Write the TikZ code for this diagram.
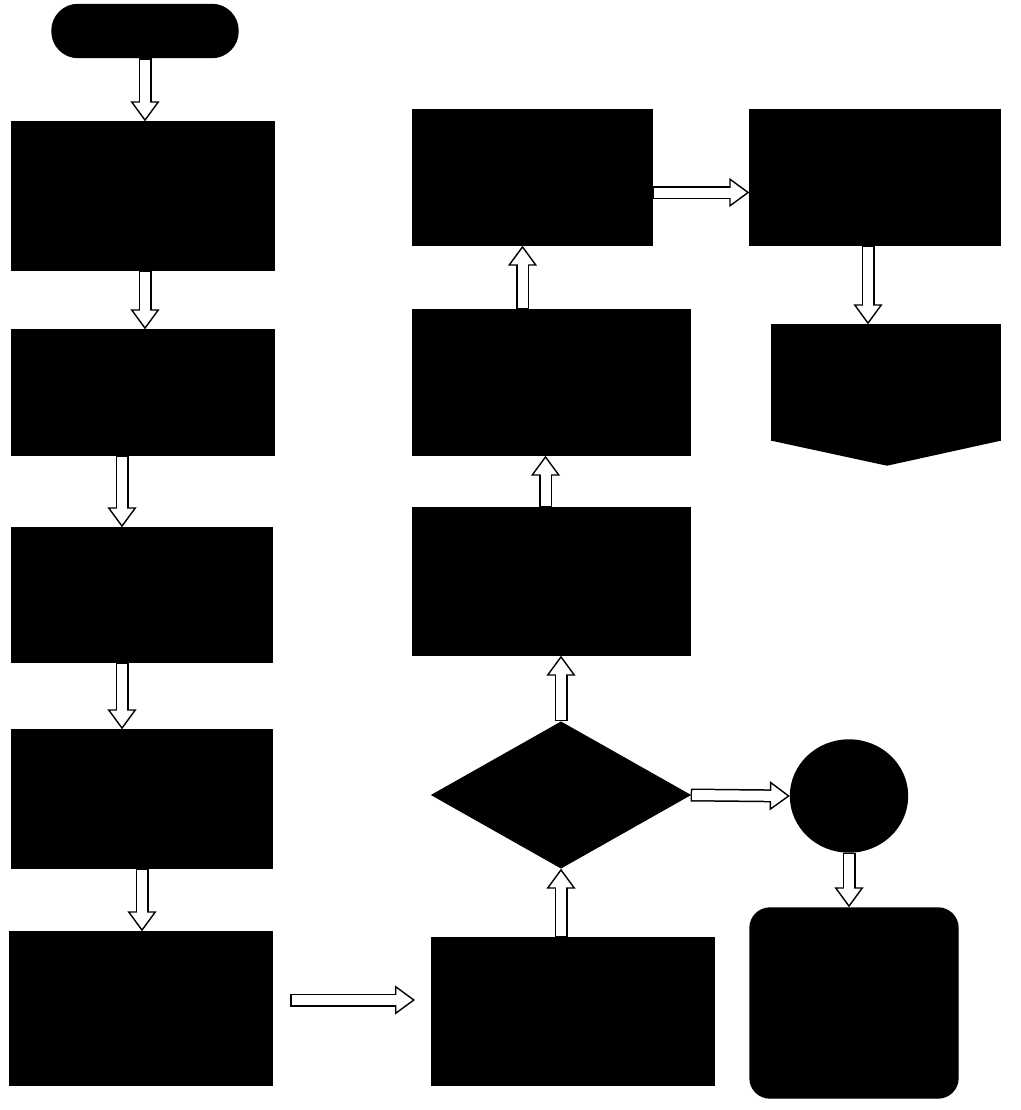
\documentclass[tikz,border=0pt]{standalone}
\usepackage{tikz}
\usetikzlibrary{arrows.meta,positioning,calc,shapes.geometric}

\begin{document}
\begin{tikzpicture}[
  x=0.2mm, y=-0.2mm,
  block/.style={draw=black, fill=black, inner sep=0pt, line width=0.8pt},
  flow/.style={line width=2.6mm, draw=black,
    -{Triangle[length=4mm, width=5.8mm, fill=white, line width=0.8pt]},
    postaction={draw=white, line width=2.0mm, -, shorten <=0.3mm, shorten >=3.3mm}}
]
\useasboundingbox (0,0) rectangle (1020,1110);
% left column
\node[block, rounded corners=5.2mm, minimum width=37.2mm, minimum height=10.6mm] (start) at (145,31) {};
\node[block, minimum width=52.4mm, minimum height=29.6mm] (b1) at (143,196) {};
\node[block, minimum width=52.4mm, minimum height=25mm] (b2) at (143,392.5) {};
\node[block, minimum width=52mm, minimum height=26.8mm] (b3) at (142,595) {};
\node[block, minimum width=52mm, minimum height=27.6mm] (b4) at (142,799) {};
\node[block, minimum width=52.4mm, minimum height=30.6mm] (b5) at (141,1008.5) {};
% middle column
\node[block, minimum width=56.4mm, minimum height=29.4mm] (m1) at (573,1011.5) {};
\node[block, diamond, minimum width=51.6mm, minimum height=29.2mm, shape aspect=1.77] (dia) at (561,795) {};
\node[block, minimum width=55.4mm, minimum height=29.4mm] (m2) at (551.5,581.5) {};
\node[block, minimum width=55.4mm, minimum height=29mm] (m3) at (551.5,382.5) {};
\node[block, minimum width=47.8mm, minimum height=27mm] (m4) at (532.5,177.5) {};
% right column
\node[block, minimum width=50mm, minimum height=27mm] (r1) at (875,177.5) {};
\node[block, minimum width=45.6mm, minimum height=23mm] (r2) at (886,382.5) {};
\fill[black] (r2.south west) -- (r2.south east) -- ($(r2.south)+(1,25)$) -- cycle;
\node[block, ellipse, minimum width=23.4mm, minimum height=22.4mm] (circ) at (849,796) {};
\node[block, rounded corners=4mm, minimum width=41.6mm, minimum height=38mm] (r3) at (854,1003) {};

% arrow ends
\coordinate (gapL) at (290,1000);
\coordinate (gapR) at (415,1000);
\coordinate (b1out) at ($(b1.south)+(2,0)$);
\coordinate (b2out) at ($(b2.south)+(-21,0)$);
\coordinate (b3out) at ($(b3.south)+(-20,0)$);
\coordinate (m2out) at ($(m2.north)+(-6,0)$);
\coordinate (m3out) at ($(m3.north)+(-29,0)$);
\coordinate (m4out) at ($(m4.east)+(0,15)$);
\coordinate (r1out) at ($(r1.south)+(-7,0)$);

% arrows
\draw[flow] (start.south) -- (start.south |- b1.north);
\draw[flow] (b1out) -- (b1out |- b2.north);
\draw[flow] (b2out) -- (b2out |- b3.north);
\draw[flow] (b3out) -- (b3out |- b4.north);
\draw[flow] (b4.south) -- (b4.south |- b5.north);
\draw[flow] (gapL) -- (gapR);
\draw[flow] (dia.south |- m1.north) -- (dia.south);
\draw[flow] (dia.north) -- (dia.north |- m2.south);
\draw[flow] (m2out) -- (m2out |- m3.south);
\draw[flow] (m3out) -- (m3out |- m4.south);
\draw[flow] (m4out) -- (m4out -| r1.west);
\draw[flow] (r1out) -- (r1out |- r2.north);
\draw[flow] (dia.east) -- (circ.west);
\draw[flow] (circ.south) -- (circ.south |- r3.north);
\end{tikzpicture}
\end{document}
